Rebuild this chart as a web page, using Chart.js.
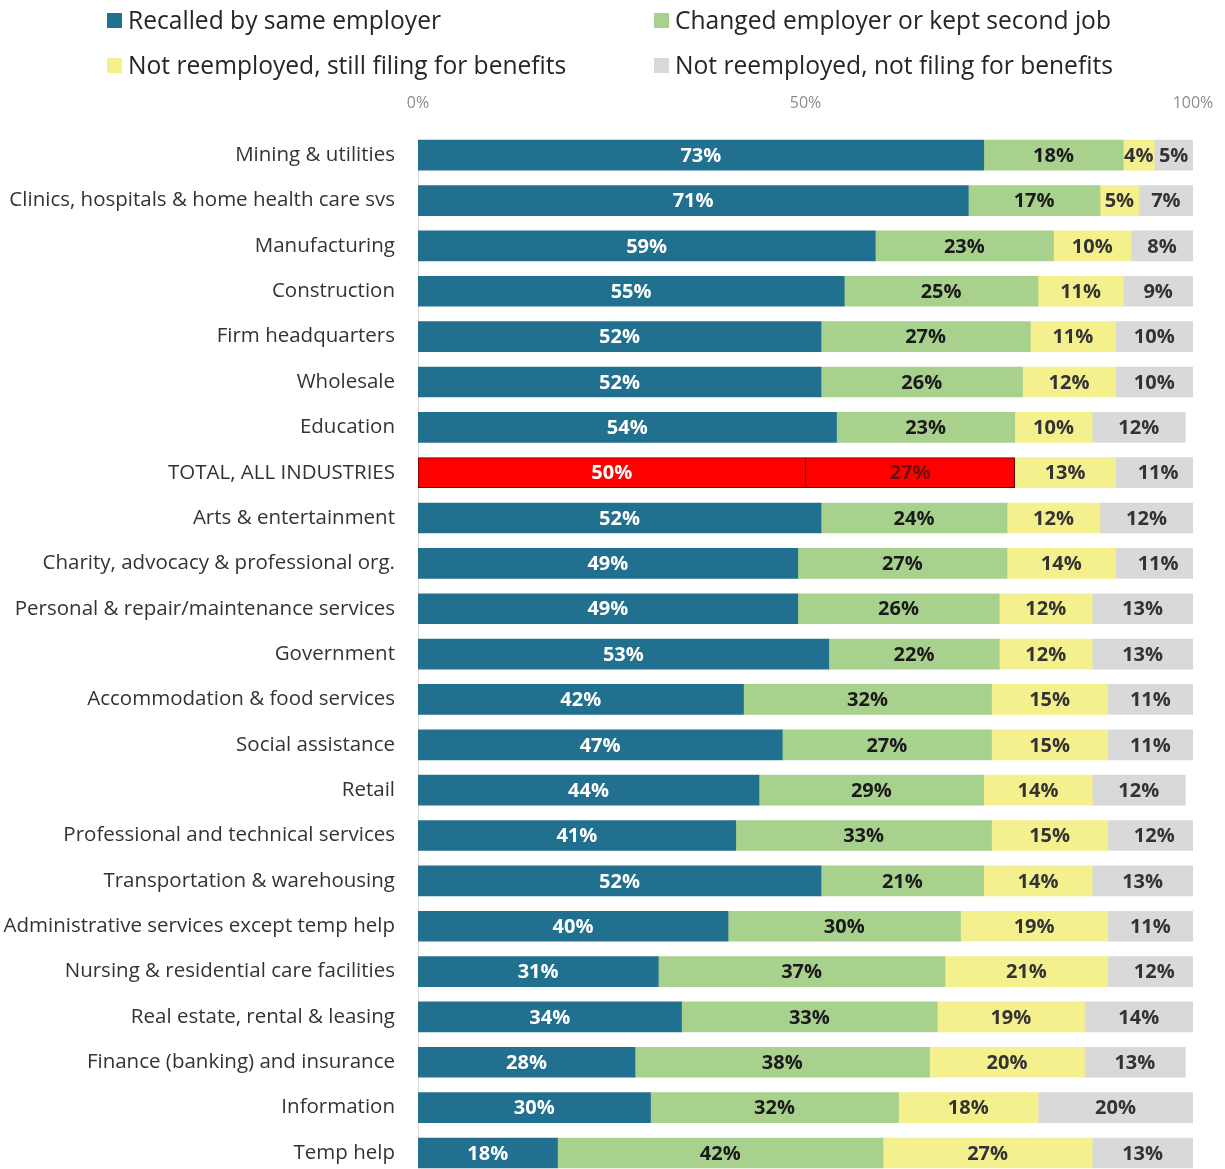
<!DOCTYPE html>
<html>
<head>
<meta charset="utf-8">
<script src="https://cdn.jsdelivr.net/npm/chart.js@4.4.1/dist/chart.umd.min.js"></script>
<style>
  html, body { margin: 0; padding: 0; background: #fff; overflow: hidden; }
  #wrap { position: relative; width: 1225px; height: 1169px; overflow: hidden; }
  #chart { position: absolute; left: 0; top: 0; }
  .legend { position: absolute; font-family: "Open Sans", sans-serif; font-size: 24.6px; color: #262626; white-space: nowrap; }
  .legend span.box { display: inline-block; width: 15px; height: 15px; margin-right: 6px; vertical-align: 1px; }
</style>
</head>
<body>
<div id="wrap">
  <canvas id="chart" width="1225" height="1169"></canvas>
  <div id="legend"></div>
</div>
<script>
// 업종 목록 (위에서 아래 순서)
const categories = [
    'Mining & utilities',
    'Clinics, hospitals & home health care svs',
    'Manufacturing',
    'Construction',
    'Firm headquarters',
    'Wholesale',
    'Education',
    'TOTAL, ALL INDUSTRIES',
    'Arts & entertainment',
    'Charity, advocacy & professional org.',
    'Personal & repair/maintenance services',
    'Government',
    'Accommodation & food services',
    'Social assistance',
    'Retail',
    'Professional and technical services',
    'Transportation & warehousing',
    'Administrative services except temp help',
    'Nursing & residential care facilities',
    'Real estate, rental & leasing',
    'Finance (banking) and insurance',
    'Information',
    'Temp help'
];

// 시리즈별 비율 (%)
const recalled   = [73, 71, 59, 55, 52, 52, 54, 50, 52, 49, 49, 53, 42, 47, 44, 41, 52, 40, 31, 34, 28, 30, 18];
const changed    = [18, 17, 23, 25, 27, 26, 23, 27, 24, 27, 26, 22, 32, 27, 29, 33, 21, 30, 37, 33, 38, 32, 42];
const filing     = [ 4,  5, 10, 11, 11, 12, 10, 13, 12, 14, 12, 12, 15, 15, 14, 15, 14, 19, 21, 19, 20, 18, 27];
const notFiling  = [ 5,  7,  8,  9, 10, 10, 12, 11, 12, 11, 13, 13, 11, 11, 12, 12, 13, 11, 12, 14, 13, 20, 13];

const seriesLabels = [
    'Recalled by same employer',
    'Changed employer or kept second job',
    'Not reemployed, still filing for benefits',
    'Not reemployed, not filing for benefits'
];
const xTicks = [0, 50, 100];

const BLUE = '#21708f', GREEN = '#a9d18e', YELLOW = '#f4f08e', GRAY = '#d9d9d9', RED = '#ff0000';
const totalIdx = categories.indexOf('TOTAL, ALL INDUSTRIES');

// 합계 행만 빨간색으로 강조
function colorsFor(base) {
    return categories.map((c, i) => i === totalIdx ? RED : base);
}
function borderFor() {
    return categories.map((c, i) => i === totalIdx ? 1 : 0);
}

// 범례는 HTML로 2x2 배치
const legendPos = [
    { left: 107, top: 3 },
    { left: 654, top: 3 },
    { left: 107, top: 48 },
    { left: 654, top: 48 }
];
const legendColors = [BLUE, GREEN, YELLOW, GRAY];
const legendEl = document.getElementById('legend');
seriesLabels.forEach((label, i) => {
    const d = document.createElement('div');
    d.className = 'legend';
    d.style.left = legendPos[i].left + 'px';
    d.style.top = legendPos[i].top + 'px';
    d.innerHTML = '<span class="box" style="background:' + legendColors[i] + '"></span>' + label;
    legendEl.appendChild(d);
});

// 막대 안에 값 표시
const valueLabels = {
    id: 'valueLabels',
    afterDatasetsDraw(chart) {
        const ctx = chart.ctx;
        ctx.save();
        ctx.font = 'bold 20px "Open Sans", sans-serif';
        ctx.textAlign = 'center';
        ctx.textBaseline = 'middle';
        chart.data.datasets.forEach((ds, di) => {
            const meta = chart.getDatasetMeta(di);
            meta.data.forEach((bar, i) => {
                let color = ds.labelColor;
                if (i === totalIdx && di === 1) color = '#6b1010';
                ctx.fillStyle = color;
                ctx.fillText(ds.data[i] + '%', (bar.x + bar.base) / 2, bar.y + 1);
            });
        });
        ctx.restore();
    }
};

const clipX = { left: 0, right: 0, top: false, bottom: false };

const ctx = document.getElementById('chart').getContext('2d');
new Chart(ctx, {
    type: 'bar',
    data: {
        labels: categories,
        datasets: [
            { label: seriesLabels[0], data: recalled, backgroundColor: colorsFor(BLUE), borderColor: '#5a0000', borderWidth: borderFor(), borderSkipped: false, labelColor: '#ffffff', clip: clipX },
            { label: seriesLabels[1], data: changed, backgroundColor: colorsFor(GREEN), borderColor: '#5a0000', borderWidth: borderFor(), borderSkipped: false, labelColor: '#1a1a1a', clip: clipX },
            { label: seriesLabels[2], data: filing, backgroundColor: YELLOW, labelColor: '#333333', clip: clipX },
            { label: seriesLabels[3], data: notFiling, backgroundColor: GRAY, labelColor: '#333333', clip: clipX }
        ]
    },
    options: {
        indexAxis: 'y',
        responsive: false,
        animation: false,
        barThickness: 30,
        layout: { padding: { top: 52, right: 32, bottom: 16, left: 0 } },
        scales: {
            x: {
                position: 'top',
                stacked: true,
                min: 0,
                max: 100,
                afterBuildTicks: (scale) => { scale.ticks = xTicks.map(v => ({ value: v })); },
                // 눈금 라벨 여백이 차트 영역을 줄이지 않도록
                afterFit: (scale) => { scale.paddingLeft = 0; scale.paddingRight = 0; },
                grid: { display: false, drawTicks: false },
                border: { display: false },
                ticks: {
                    padding: 42,
                    color: '#8c8c8c',
                    font: { family: '"Open Sans", sans-serif', size: 16 },
                    callback: (v) => v + '%'
                }
            },
            y: {
                stacked: true,
                offset: false,
                grid: { display: false, drawTicks: false },
                border: { display: true, color: '#dddddd', width: 1 },
                afterFit: (scale) => {
                    scale.width = 418;
                    scale.paddingTop = 0;
                    scale.paddingBottom = 0;
                },
                ticks: {
                    padding: 23,
                    color: '#333333',
                    font: { family: '"Open Sans", sans-serif', size: 20.5 }
                }
            }
        },
        plugins: {
            legend: { display: false },
            tooltip: { enabled: false }
        }
    },
    plugins: [valueLabels]
});
</script>
</body>
</html>
